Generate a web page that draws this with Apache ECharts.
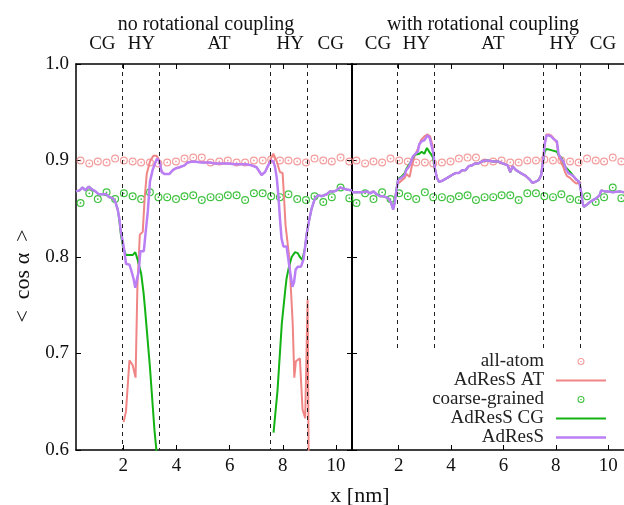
<!DOCTYPE html>
<html>
<head>
<meta charset="utf-8">
<script src="https://cdn.jsdelivr.net/npm/echarts@6/dist/echarts.min.js"></script>
<style>
  html, body { margin: 0; padding: 0; background: #fff; }
  #main { width: 624px; height: 505px; }
</style>
</head>
<body>
<div id="main"></div>
<script>
// x positions of the reference points (all-atom / coarse-grained), shared by both panels
const refX = [0.39, 0.72, 1.04, 1.37, 1.69, 2.02, 2.35, 2.67, 3.00, 3.32, 3.65, 3.98, 4.30, 4.63, 4.95, 5.28,
  5.61, 5.93, 6.26, 6.58, 6.91, 7.24, 7.56, 7.89, 8.21, 8.54, 8.87, 9.19, 9.52, 9.84, 10.17, 10.50];
const allAtomY = [0.900, 0.897, 0.899, 0.898, 0.902, 0.900, 0.899, 0.898, 0.898, 0.897, 0.898, 0.899, 0.902, 0.903, 0.903, 0.898,
  0.899, 0.900, 0.898, 0.898, 0.900, 0.900, 0.901, 0.900, 0.900, 0.899, 0.898, 0.902, 0.900, 0.899, 0.903, 0.899];
const coarseY = [0.856, 0.866, 0.860, 0.867, 0.860, 0.866, 0.863, 0.860, 0.867, 0.862, 0.862, 0.860, 0.863, 0.864, 0.859, 0.862,
  0.862, 0.864, 0.864, 0.859, 0.866, 0.866, 0.863, 0.862, 0.865, 0.860, 0.859, 0.863, 0.857, 0.862, 0.872, 0.861];

// left panel: no rotational coupling
const leftAdResS = [[0.22,0.868],[0.35,0.869],[0.47,0.872],[0.57,0.869],[0.70,0.873],[0.82,0.870],[0.95,0.868],[1.07,0.865],
  [1.22,0.865],[1.35,0.865],[1.47,0.862],[1.60,0.861],[1.70,0.857],[1.79,0.849],[1.85,0.840],[1.91,0.826],[1.98,0.816],
  [2.04,0.806],[2.10,0.793],[2.23,0.792],[2.29,0.787],[2.38,0.778],[2.45,0.768],[2.52,0.778],[2.58,0.785],[2.64,0.806],
  [2.77,0.806],[2.83,0.823],[2.92,0.847],[3.00,0.878],[3.10,0.890],[3.19,0.897],[3.27,0.902],[3.36,0.899],[3.44,0.888],
  [3.54,0.886],[3.73,0.886],[3.86,0.890],[3.98,0.892],[4.11,0.893],[4.30,0.895],[4.42,0.898],[4.61,0.899],[4.98,0.898],
  [5.24,0.898],[5.45,0.897],[5.70,0.897],[5.95,0.897],[6.20,0.896],[6.58,0.896],[6.83,0.895],[7.01,0.893],[7.20,0.885],
  [7.33,0.888],[7.45,0.895],[7.55,0.900],[7.64,0.899],[7.70,0.894],[7.77,0.882],[7.83,0.864],[7.89,0.840],[7.95,0.819],
  [8.02,0.811],[8.14,0.811],[8.20,0.799],[8.27,0.785],[8.36,0.769],[8.42,0.774],[8.48,0.787],[8.56,0.790],[8.68,0.790],
  [8.77,0.797],[8.83,0.809],[8.89,0.823],[8.98,0.837],[9.08,0.850],[9.21,0.861],[9.33,0.864],[9.46,0.863],[9.65,0.865],
  [9.77,0.868],[9.93,0.868],[10.02,0.869],[10.15,0.872],[10.27,0.871],[10.40,0.870],[10.60,0.869]];
const leftAdResAT = [[2.01,0.629],[2.10,0.640],[2.23,0.693],[2.35,0.688],[2.46,0.675],[2.53,0.770],[2.62,0.823],[2.73,0.826],
  [2.80,0.860],[2.88,0.886],[3.00,0.899],[3.13,0.905],[3.25,0.905],[3.34,0.901],[3.44,0.889],[3.54,0.886],[3.73,0.886],
  [3.86,0.890],[3.98,0.892],[4.11,0.893],[4.30,0.895],[4.42,0.898],[4.61,0.899],[4.98,0.898],[5.24,0.898],[5.45,0.897],
  [5.70,0.897],[5.95,0.897],[6.20,0.896],[6.58,0.896],[6.83,0.895],[7.01,0.893],[7.20,0.885],[7.33,0.888],[7.45,0.895],
  [7.55,0.902],[7.64,0.907],[7.77,0.899],[7.89,0.888],[7.99,0.887],[8.04,0.864],[8.10,0.833],[8.17,0.831],[8.23,0.802],
  [8.30,0.768],[8.37,0.731],[8.43,0.675],[8.49,0.692],[8.64,0.695],[8.74,0.642],[8.84,0.633],[8.93,0.756],[8.98,0.550]];
const leftAdResCG = [[0.22,0.868],[0.35,0.869],[0.47,0.872],[0.57,0.869],[0.70,0.873],[0.82,0.870],[0.95,0.868],[1.07,0.865],
  [1.22,0.865],[1.35,0.865],[1.47,0.862],[1.60,0.861],[1.70,0.857],[1.79,0.849],[1.85,0.838],[1.91,0.823],[1.98,0.812],
  [2.04,0.806],[2.10,0.802],[2.23,0.802],[2.35,0.802],[2.45,0.805],[2.54,0.797],[2.67,0.783],[2.76,0.763],[2.82,0.745],
  [3.00,0.686],[3.17,0.621],[3.25,0.598],[3.30,0.580], null,
  [7.65,0.618],[7.80,0.662],[7.96,0.731],[8.09,0.766],[8.14,0.778],[8.23,0.790],[8.33,0.800],[8.46,0.805],[8.56,0.804],
  [8.64,0.800],[8.73,0.797],[8.83,0.809],[8.89,0.823],[8.98,0.837],[9.08,0.850],[9.21,0.861],[9.33,0.864],[9.46,0.863],
  [9.65,0.865],[9.77,0.868],[9.93,0.868],[10.02,0.869],[10.15,0.872],[10.27,0.871],[10.40,0.870],[10.60,0.869]];

// right panel: with rotational coupling
const rightAdResS = [[0.22,0.867],[0.41,0.867],[0.60,0.867],[0.79,0.868],[0.91,0.866],[1.04,0.868],[1.16,0.865],[1.29,0.863],
  [1.41,0.863],[1.60,0.861],[1.70,0.857],[1.79,0.849],[1.85,0.856],[1.91,0.868],[1.98,0.880],[2.10,0.882],[2.23,0.885],
  [2.29,0.890],[2.38,0.893],[2.45,0.897],[2.54,0.904],[2.64,0.907],[2.73,0.909],[2.79,0.917],[2.88,0.920],[2.98,0.921],
  [3.10,0.926],[3.19,0.923],[3.25,0.916],[3.33,0.907],[3.38,0.892],[3.46,0.882],[3.54,0.878],[3.67,0.879],[3.79,0.881],
  [3.92,0.883],[4.04,0.885],[4.17,0.887],[4.30,0.887],[4.42,0.890],[4.55,0.890],[4.67,0.894],[4.80,0.895],[4.92,0.897],
  [5.05,0.897],[5.17,0.899],[5.30,0.900],[5.41,0.900],[5.60,0.899],[5.79,0.899],[5.97,0.897],[6.16,0.895],[6.26,0.888],
  [6.35,0.894],[6.48,0.890],[6.66,0.887],[6.85,0.884],[7.01,0.880],[7.10,0.877],[7.23,0.878],[7.35,0.880],[7.44,0.885],
  [7.52,0.901],[7.57,0.916],[7.64,0.926],[7.73,0.926],[7.82,0.925],[7.92,0.922],[8.04,0.920],[8.10,0.907],[8.19,0.902],
  [8.29,0.899],[8.39,0.891],[8.48,0.887],[8.61,0.885],[8.69,0.883],[8.79,0.880],[8.89,0.878],[8.96,0.868],[9.02,0.856],
  [9.07,0.852],[9.17,0.854],[9.30,0.857],[9.42,0.859],[9.55,0.861],[9.67,0.864],[9.73,0.869],[9.86,0.868],[9.98,0.868],
  [10.17,0.867],[10.42,0.868],[10.60,0.867]];
const rightAdResAT = [[1.97,0.876],[2.04,0.878],[2.23,0.882],[2.30,0.886],[2.42,0.883],[2.50,0.894],[2.60,0.904],[2.73,0.912],
  [2.85,0.921],[2.98,0.925],[3.10,0.927],[3.20,0.925],[3.29,0.916],[3.33,0.907],[3.38,0.892],[3.46,0.882],[3.54,0.878],
  [3.67,0.879],[3.79,0.881],[3.92,0.883],[4.04,0.885],[4.17,0.887],[4.30,0.887],[4.42,0.890],[4.55,0.890],[4.67,0.894],
  [4.80,0.895],[4.92,0.897],[5.05,0.897],[5.17,0.899],[5.30,0.900],[5.41,0.900],[5.60,0.899],[5.79,0.899],[5.97,0.897],
  [6.16,0.895],[6.26,0.888],[6.35,0.894],[6.48,0.890],[6.66,0.887],[6.85,0.884],[7.01,0.880],[7.10,0.877],[7.23,0.878],
  [7.35,0.880],[7.44,0.885],[7.52,0.902],[7.57,0.918],[7.64,0.927],[7.73,0.927],[7.82,0.926],[7.92,0.923],[8.04,0.918],
  [8.10,0.905],[8.19,0.899],[8.29,0.893],[8.35,0.888],[8.42,0.884],[8.54,0.882],[8.69,0.878],[8.79,0.876],[8.90,0.878],
  [8.96,0.876]];
const rightAdResCG = [[0.22,0.867],[0.41,0.867],[0.60,0.867],[0.79,0.868],[0.91,0.866],[1.04,0.868],[1.16,0.865],[1.29,0.863],
  [1.41,0.863],[1.60,0.861],[1.70,0.857],[1.79,0.850],[1.85,0.857],[1.91,0.869],[1.98,0.881],[2.10,0.883],[2.23,0.887],
  [2.29,0.891],[2.38,0.895],[2.45,0.898],[2.54,0.903],[2.62,0.906],[2.79,0.907],[2.88,0.909],[2.98,0.907],[3.08,0.913],
  [3.17,0.909],[3.25,0.906],[3.31,0.903],[3.38,0.892],[3.46,0.882],[3.54,0.878],[3.67,0.879],[3.79,0.881],[3.92,0.883],
  [4.04,0.885],[4.17,0.887],[4.30,0.887],[4.42,0.890],[4.55,0.890],[4.67,0.894],[4.80,0.895],[4.92,0.897],[5.05,0.897],
  [5.17,0.899],[5.30,0.900],[5.41,0.900],[5.60,0.899],[5.79,0.899],[5.97,0.897],[6.16,0.895],[6.26,0.888],[6.35,0.894],
  [6.48,0.890],[6.66,0.887],[6.85,0.884],[7.01,0.880],[7.10,0.877],[7.23,0.878],[7.35,0.880],[7.44,0.885],[7.52,0.901],
  [7.57,0.909],[7.64,0.912],[7.79,0.911],[7.92,0.910],[8.04,0.909],[8.10,0.906],[8.23,0.902],[8.35,0.894],[8.48,0.890],
  [8.61,0.886],[8.69,0.883],[8.79,0.880],[8.89,0.878],[8.96,0.868],[9.02,0.856],[9.07,0.852],[9.17,0.854],[9.30,0.857],
  [9.42,0.859],[9.55,0.861],[9.67,0.864],[9.73,0.869],[9.86,0.868],[9.98,0.868],[10.17,0.867],[10.42,0.868],[10.60,0.867]];

// region borders (dashed) and region labels on the top axis
const regionBorders = [1.95, 3.34, 7.53, 8.92];
const regionPos = [1.21, 2.68, 5.60, 8.28, 9.80];
const regionNames = ['CG', 'HY', 'AT', 'HY', 'CG'];
const xTicks = [2, 4, 6, 8, 10];
const panelTitles = ['no rotational coupling', 'with rotational coupling'];

const FONT = 'Liberation Serif';
const PINK = '#f08585';
const GREEN = '#12b312';
const PURPLE = '#bb7ff5';
const CIRCLE = 'path://M0,-10A10,10 0 1,1 0,10A10,10 0 1,1 0,-10ZM0,-7A7,7 0 1,0 0,7A7,7 0 1,0 0,-7ZM0,-2.2A2.2,2.2 0 1,1 0,2.2A2.2,2.2 0 1,1 0,-2.2Z';

const pairs = (xs, ys) => xs.map((x, i) => [x, ys[i]]);

const chart = echarts.init(document.getElementById('main'));

const bottomAxis = (grid) => ({
  type: 'value', gridIndex: grid, position: 'bottom', min: 0.22, max: 10.6,
  axisLine: { lineStyle: { color: '#000', width: 1.5 } },
  axisTick: { inside: true, length: 5, customValues: xTicks, lineStyle: { color: '#000' } },
  axisLabel: { customValues: xTicks, margin: 7, fontFamily: FONT, fontSize: 19, color: '#111' },
  splitLine: { show: false }
});
const topAxis = (grid) => ({
  type: 'value', gridIndex: grid, position: 'top', min: 0.22, max: 10.6,
  axisLine: { lineStyle: { color: '#000', width: 1.5 } },
  axisTick: { inside: true, length: 5, customValues: xTicks, lineStyle: { color: '#000' } },
  axisLabel: {
    customValues: regionPos, margin: 10, fontFamily: FONT, fontSize: 19, color: '#111',
    formatter: (v) => regionNames[regionPos.indexOf(v)]
  },
  splitLine: { show: false }
});
const sideAxis = (grid, pos, labels) => ({
  type: 'value', gridIndex: grid, position: pos, min: 0.6, max: 1.0, interval: 0.1,
  axisLine: { show: true, lineStyle: { color: '#000', width: pos === 'left' && grid === 1 ? 2 : 1.5 } },
  axisTick: { show: true, inside: true, length: 5, lineStyle: { color: '#000' } },
  axisLabel: { show: labels, margin: 7, fontFamily: FONT, fontSize: 19, color: '#111', formatter: (v) => v.toFixed(1) },
  splitLine: { show: false }
});

const borderLines = (grid) => ({
  symbol: 'none', silent: true, animation: false,
  label: { show: false },
  lineStyle: { color: '#222', type: [4, 4], width: 1 },
  data: regionBorders.map((x) => [{ coord: [x, 1.0] }, { coord: [x, grid === 0 ? 0.6 : 0.705] }])
});

const panelSeries = (grid, at, cg, adress) => {
  const xi = grid === 0 ? 0 : 2;
  const yi = grid === 0 ? 0 : 2;
  return [
    { name: 'all-atom', type: 'scatter', xAxisIndex: xi, yAxisIndex: yi, data: pairs(refX, allAtomY),
      symbol: CIRCLE, symbolSize: 8, itemStyle: { color: PINK }, markLine: borderLines(grid) },
    { name: 'coarse-grained', type: 'scatter', xAxisIndex: xi, yAxisIndex: yi, data: pairs(refX, coarseY),
      symbol: CIRCLE, symbolSize: 8, itemStyle: { color: GREEN } },
    { name: 'AdResS AT', type: 'line', xAxisIndex: xi, yAxisIndex: yi, data: at, symbol: 'none', showSymbol: false,
      lineStyle: { color: PINK, width: 2 }, itemStyle: { color: PINK } },
    { name: 'AdResS CG', type: 'line', xAxisIndex: xi, yAxisIndex: yi, data: cg, symbol: 'none', showSymbol: false,
      connectNulls: false, lineStyle: { color: GREEN, width: 2 }, itemStyle: { color: GREEN } },
    { name: 'AdResS', type: 'line', xAxisIndex: xi, yAxisIndex: yi, data: adress, symbol: 'none', showSymbol: false,
      lineStyle: { color: PURPLE, width: 2.5 }, itemStyle: { color: PURPLE } }
  ];
};

const LINE_ICON = 'path://M0,0H50V2.2H0Z';

chart.setOption({
  animation: false,
  title: [
    { text: panelTitles[0], left: 201, top: 10, textAlign: 'center',
      textStyle: { fontFamily: FONT, fontSize: 20, fontWeight: 'normal', color: '#111' } },
    { text: panelTitles[1], left: 478, top: 10, textAlign: 'center',
      textStyle: { fontFamily: FONT, fontSize: 20, fontWeight: 'normal', color: '#111' } },
    { text: 'x [nm]', left: 355, top: 480, textAlign: 'center',
      textStyle: { fontFamily: FONT, fontSize: 22, fontWeight: 'normal', color: '#111' } }
  ],
  graphic: [{
    type: 'text', x: 23, y: 276, rotation: Math.PI / 2,
    style: { text: '<  cos α  >', font: '22px "Liberation Serif"', fill: '#111', align: 'center', verticalAlign: 'middle' }
  }],
  legend: {
    orient: 'vertical', align: 'right', right: 18, top: 352, padding: 0,
    itemWidth: 50, itemHeight: 7, itemGap: 0,
    data: [
      { name: 'all-atom' },
      { name: 'AdResS AT', icon: LINE_ICON },
      { name: 'coarse-grained' },
      { name: 'AdResS CG', icon: LINE_ICON },
      { name: 'AdResS', icon: 'path://M0,0H50V2.6H0Z' }
    ],
    textStyle: { fontFamily: FONT, fontSize: 19, color: '#222', lineHeight: 18.5, padding: [0, 7, 0, 0] }
  },
  grid: [
    { left: 76, top: 64, width: 276, height: 386 },
    { left: 352, top: 64, width: 276, height: 386 }
  ],
  xAxis: [bottomAxis(0), topAxis(0), bottomAxis(1), topAxis(1)],
  yAxis: [sideAxis(0, 'left', true), sideAxis(0, 'right', false), sideAxis(1, 'left', false)],
  series: [
    ...panelSeries(0, leftAdResAT, leftAdResCG, leftAdResS),
    ...panelSeries(1, rightAdResAT, rightAdResCG, rightAdResS)
  ]
});
</script>
</body>
</html>
